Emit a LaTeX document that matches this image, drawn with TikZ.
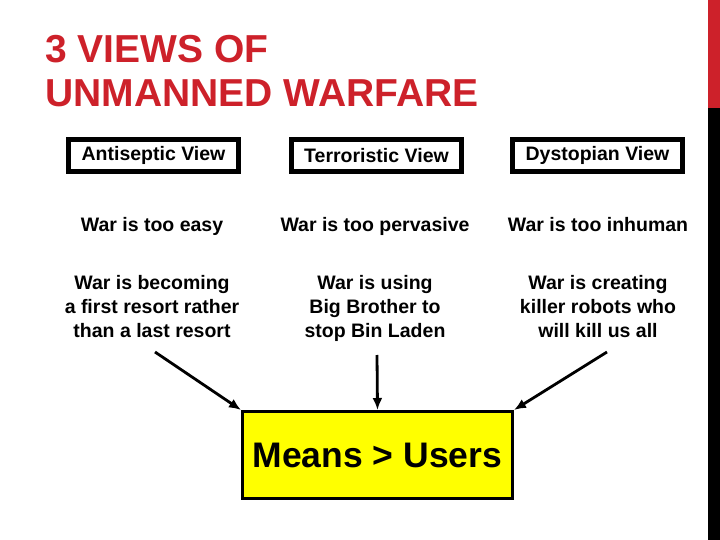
\documentclass[tikz,border=0pt]{standalone}
\usepackage{fontspec}
\setmainfont{Liberation Sans}
\usetikzlibrary{arrows.meta}
\definecolor{titlered}{RGB}{205,33,42}
\definecolor{meansyellow}{RGB}{255,255,0}

\begin{document}
\begin{tikzpicture}[x=1pt,y=-1pt,
  viewbox/.style={draw,line width=5pt,minimum width=170pt,minimum height=32pt,inner sep=0pt,font=\fontsize{19.5}{22}\bfseries},
  claim/.style={anchor=base,align=center,inner sep=0pt,font=\fontsize{19.5}{24}\bfseries},
  toarrow/.style={-{Latex[length=12pt,width=10pt]},line width=2.8pt}]
  \useasboundingbox (0,0) rectangle (720,540);
  % title and side bar
  \node[anchor=base west,inner sep=0pt,text=titlered,font=\fontsize{39}{44}\bfseries] (title1) at (45,63) {3 VIEWS OF};
  \node[anchor=base west,inner sep=0pt,text=titlered,font=\fontsize{39}{44}\bfseries] (title2) at (45,107) {UNMANNED WARFARE};
  \fill[titlered] (708,0) rectangle (720,108);
  \fill[black] (708,108) rectangle (720,540);
  % the three views
  \node[viewbox] (anti) at (153.5,155.5) {Antiseptic View};
  \node[viewbox] (terr) at (376.5,155.5) {Terroristic View};
  \node[viewbox] (dyst) at (597.5,155.5) {Dystopian View};
  \node[claim] (leasy) at (152,231) {War is too easy};
  \node[claim] (mpervasive) at (375,231) {War is too pervasive};
  \node[claim] (rinhuman) at (598,231) {War is too inhuman};
  \node[claim] (lres) at (152,337) {War is becoming\\a first resort rather\\than a last resort};
  \node[claim] (mres) at (375,337) {War is using\\Big Brother to\\stop Bin Laden};
  \node[claim] (rres) at (598,337) {War is creating\\killer robots who\\will kill us all};
  % result
  \node[draw,line width=3pt,fill=meansyellow,minimum width=270pt,minimum height=87pt,inner sep=0pt,font=\fontsize{35.5}{40}\bfseries] (means) at (377.5,455) {Means > Users};
  \coordinate (lstart) at (155,352);
  \coordinate (mstart) at (377,355);
  \coordinate (rstart) at (607,352);
  \draw[toarrow] (lstart) -- (means.north west);
  \draw[toarrow] (mstart) -- (means.north);
  \draw[toarrow] (rstart) -- (means.north east);
\end{tikzpicture}
\end{document}
